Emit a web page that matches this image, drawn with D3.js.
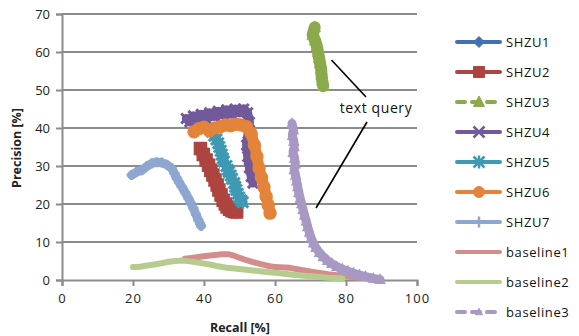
<!DOCTYPE html>
<html><head><meta charset="utf-8">
<script src="https://cdn.jsdelivr.net/npm/d3@7"></script>
<style>
html,body{margin:0;padding:0;background:#fff;}
svg{display:block;font-family:"Open Sans","Liberation Sans",sans-serif;}
</style></head>
<body>
<svg id="chart" width="579" height="336"></svg>
<script>
// ---- data: [recall %, precision %] ----
const seriesNames = ["SHZU1","SHZU2","SHZU3","SHZU4","SHZU5","SHZU6","SHZU7","baseline1","baseline2","baseline3"];
const shzu1 = [[37.6,39.2],[40,40],[43,39.8],[46,40.6],[49,40.8],[52,40],[53.6,37.5],[54.6,34],[55.4,30],[56.3,26.5],[57.3,22.5],[58.2,19]];
const shzu2 = [[39.0,34.6],[39.8,33],[40.6,31.6],[41.3,30.2],[41.9,28.9],[42.5,27.6],[43.1,26.3],[43.7,25],[44.2,23.7],[44.8,22.4],[45.4,21],[46,20],[46.5,19.2],[47.2,18.6],[47.9,18.2],[48.6,18],[49.2,17.9]];
const shzu3 = [[71.2,66.5],[70.6,64.5],[71.3,63],[71.8,61.5],[72.1,60],[72.4,58.5],[72.7,57],[73,55.5],[73.1,54],[73.3,52.5],[73.6,51]];
const shzu4 = [[35,42.5],[36,41.6],[37,43.2],[38,42.2],[39.2,43.6],[40.4,42.4],[41.6,44],[42.8,43],[44,44.4],[45.2,43.4],[46.4,44.8],[47.6,43.6],[48.8,45],[50,44],[51.2,45],[52.3,44],[52.8,41.5],[52.4,38.5],[52,35.5],[52.3,32.5],[52.8,29.5],[53.3,27.2],[53.8,25.5]];
const shzu5 = [[42.3,39],[42.9,38],[43.5,37],[44,36],[44.3,35],[44.7,34],[45,33],[45.3,32],[45.6,31.2],[46.3,30],[46.7,29],[47,28.4],[47.5,27.5],[47.9,26.6],[48.5,25.5],[48.8,24.5],[49.1,23.7],[49.5,22.7],[49.9,21.7],[50.4,21],[50.9,20.5]];
const shzu6 = [[37.2,39],[38.5,39.8],[40,40.2],[41.5,39.3],[43,40],[44.5,40.3],[46,40.8],[47.5,40.6],[49,41],[50.5,40.8],[52,40.3],[53.3,38.5],[54.2,35.5],[54.9,32.5],[55.5,29.5],[56.2,27],[56.9,24.5],[57.5,22],[58.1,19.7],[58.6,17.6]];
const shzu7 = [[19.6,27.6],[21,28.4],[22.5,28.9],[24,30],[25.3,30.7],[26.7,31],[28.1,30.9],[29.6,30.3],[30.9,29.4],[31.7,28],[32.3,26.8],[33,25.7],[33.7,24.6],[34.7,23],[35.6,21.5],[36.3,20.2],[37,18.9],[37.7,17.3],[38.4,15.8],[38.9,14.8],[39.2,14.2]];
const baseline1 = [[34.6,5.6],[36.5,5.8],[38.9,6.1],[41,6.4],[43.1,6.6],[45,6.8],[46.8,6.8],[48.5,6.4],[50.1,5.8],[52,5.2],[53.8,4.7],[55.5,4.3],[57.2,3.9],[60,3.4],[64.2,3.2],[67,2.7],[70.7,2.1],[75,1.5],[80.3,0.9],[85,0.5],[89.6,0.3]];
const baseline2 = [[20,3.4],[22,3.5],[24,3.8],[26,4.1],[28,4.4],[30,4.8],[32,5.0],[34,5.1],[36,4.9],[38.9,4.5],[42,4.0],[44,3.6],[46.5,3.2],[50,2.9],[53.8,2.5],[57,2.2],[61.4,1.8],[65,1.4],[70,1.0],[75,0.6],[79,0.4]];
const baseline3 = [[64.8,41.2],[65.2,39.5],[64.9,38],[65.3,36.5],[65.4,35],[65.1,33.5],[65.5,32],[65.7,30.5],[65.4,29],[65.8,27.5],[66.1,26],[66.4,24.5],[66.7,23],[67.1,21.5],[67.5,20],[67.9,18.5],[68.3,17],[68.8,15.5],[69.2,14],[69.7,12.5],[70.2,11],[70.8,9.7],[71.5,8.5],[72.5,7.2],[73.6,6.1],[74.8,5.1],[76,4.3],[77.4,3.5],[79,2.8],[80.5,2.3],[82.1,1.8],[83.8,1.3],[85.5,0.9],[87.7,0.4],[89.6,0.1]];
const xTicks = [0,20,40,60,80,100];
const yTicks = [0,10,20,30,40,50,60,70];
const xTitle = "Recall [%]";
const yTitle = "Precision [%]";
const annotation = "text query";

const seriesData = [shzu1,shzu2,shzu3,shzu4,shzu5,shzu6,shzu7,baseline1,baseline2,baseline3];
const colors = ["#4470B0","#AE4440","#8AAA4B","#72599A","#3E9AB3","#E3843A","#8DA7D1","#D38D8B","#B6CC8E","#A899C4"];
const markers = ["diamond","square","triangle","x","asterisk","circle","plus",null,null,"triangle"];
const dashed = [false,false,true,false,false,false,false,false,false,true];
const lineW = [5,13,12,9,10,11,9,6,6,9];
const mSize = [4,6,5,5,5.5,6,5,0,0,4.5];

const svg = d3.select("#chart");
const x = d3.scaleLinear().domain([0,100]).range([62,417]);
const y = d3.scaleLinear().domain([0,70]).range([280,14]);

// gridlines
svg.append("g").selectAll("line").data(yTicks.filter(d=>d>0)).join("line")
  .attr("x1",x(0)).attr("x2",x(100)).attr("y1",d=>y(d)).attr("y2",d=>y(d))
  .attr("stroke","#8c8c8c").attr("stroke-width",2);

// axes
const xAxis = svg.append("g").attr("transform",`translate(0,${y(0)})`)
  .call(d3.axisBottom(x).tickValues(xTicks).tickSize(6).tickPadding(8));
const yAxis = svg.append("g").attr("transform",`translate(${x(0)},0)`)
  .call(d3.axisLeft(y).tickValues(yTicks).tickSize(6).tickPadding(6));
[xAxis,yAxis].forEach(g=>{
  g.select(".domain").attr("stroke","#8c8c8c").attr("stroke-width",2);
  g.selectAll(".tick line").attr("stroke","#8c8c8c").attr("stroke-width",2);
  g.selectAll(".tick text").attr("font-size",13).attr("fill","#222")
    .attr("font-family","'Open Sans',sans-serif");
});
xAxis.selectAll(".tick text").attr("letter-spacing","1px");

// titles
svg.append("text").attr("x",240).attr("y",332).attr("text-anchor","middle")
  .attr("font-weight","bold").attr("font-size",12.5).attr("fill","#222").text(xTitle);
svg.append("text").attr("transform","translate(21,148) rotate(-90)").attr("text-anchor","middle")
  .attr("font-weight","bold").attr("font-size",12.5).attr("fill","#222").text(yTitle);

function markerPath(type,s){
  switch(type){
    case "diamond": return `M0,${-s}L${s},0L0,${s}L${-s},0Z`;
    case "square": return `M${-s},${-s}H${s}V${s}H${-s}Z`;
    case "triangle": return `M0,${-s*1.1}L${s},${s*0.8}L${-s},${s*0.8}Z`;
    case "circle": return d3.symbol(d3.symbolCircle, Math.PI*s*s)();
    case "x": return `M${-s},${-s}L${s},${s}M${-s},${s}L${s},${-s}`;
    case "plus": return `M${-s},0H${s}M0,${-s}V${s}`;
    case "asterisk": return `M${-s},${-s}L${s},${s}M${-s},${s}L${s},${-s}M0,${-s*1.2}V${s*1.2}`;
  }
  return "";
}
const strokeMarkers = new Set(["x","plus","asterisk"]);

const line = d3.line().x(d=>x(d[0])).y(d=>y(d[1])).curve(d3.curveLinear);
const plot = svg.append("g");
seriesData.forEach((data,i)=>{
  const g = plot.append("g");
  g.append("path").attr("d",line(data)).attr("fill","none")
    .attr("stroke",colors[i]).attr("stroke-width",lineW[i])
    .attr("stroke-linejoin","round").attr("stroke-linecap","round");
  if(markers[i]){
    const m = markers[i];
    g.selectAll("path.m").data(data).join("path").attr("class","m")
      .attr("transform",d=>`translate(${x(d[0])},${y(d[1])})`)
      .attr("d",markerPath(m,mSize[i]))
      .attr("fill",strokeMarkers.has(m)?"none":colors[i])
      .attr("stroke",colors[i]).attr("stroke-width",strokeMarkers.has(m)?3:1.5);
  }
});

// annotation
svg.append("text").attr("x",376).attr("y",113).attr("text-anchor","middle")
  .attr("font-size",14).attr("letter-spacing","0.6px").attr("fill","#111").text(annotation);
svg.append("line").attr("x1",331.5).attr("y1",60).attr("x2",366).attr("y2",97)
  .attr("stroke","#000").attr("stroke-width",1.6);
svg.append("line").attr("x1",367).attr("y1",122).attr("x2",316).attr("y2",208)
  .attr("stroke","#000").attr("stroke-width",1.6);

// legend
const leg = svg.append("g");
seriesNames.forEach((name,i)=>{
  const ly = 42 + i*30;
  const g = leg.append("g").attr("transform",`translate(0,${ly})`);
  g.append("line").attr("x1",457).attr("x2",500).attr("y1",0).attr("y2",0)
    .attr("stroke",colors[i]).attr("stroke-width",4).attr("stroke-linecap","round")
    .attr("stroke-dasharray",dashed[i]?"8,7":null);
  if(markers[i]){
    const m = markers[i];
    const s = i===9 ? 3.5 : 5.5;
    g.append("path").attr("transform","translate(479,0)").attr("d",markerPath(m,s))
      .attr("fill",strokeMarkers.has(m)?"none":colors[i])
      .attr("stroke",colors[i]).attr("stroke-width",strokeMarkers.has(m)?2.5:1);
  }
  g.append("text").attr("x",506).attr("y",0).attr("dy","0.35em")
    .attr("font-size",13).attr("fill","#111").attr("letter-spacing","0.6px").text(name);
});
</script>
</body></html>
